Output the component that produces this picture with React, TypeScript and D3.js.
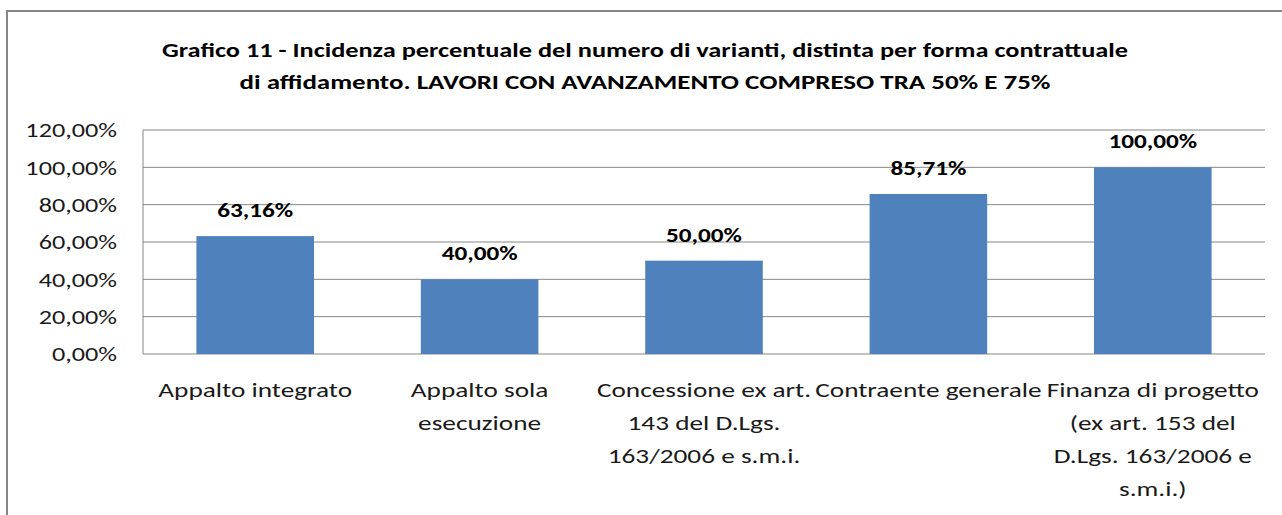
import * as d3 from "d3";
import { FC, ReactNode } from "react";

const CATEGORIES: string[] = [
  "Appalto integrato",
  "Appalto sola esecuzione",
  "Concessione ex art. 143 del D.Lgs. 163/2006 e s.m.i.",
  "Contraente generale",
  "Finanza di progetto (ex art. 153 del D.Lgs. 163/2006 e s.m.i.)",
];
// how Excel wrapped each category label
const CATEGORY_LINES: string[][] = [
  ["Appalto integrato"],
  ["Appalto sola", "esecuzione"],
  ["Concessione ex art.", "143 del D.Lgs.", "163/2006 e s.m.i."],
  ["Contraente generale"],
  ["Finanza di progetto", "(ex art. 153 del", "D.Lgs. 163/2006 e", "s.m.i.)"],
];
const VALUES: number[] = [63.16, 40.0, 50.0, 85.71, 100.0];
const Y_TICKS: number[] = [0, 20, 40, 60, 80, 100, 120];
const TITLE: string[] = [
  "Grafico 11 - Incidenza percentuale del numero di varianti, distinta per forma contrattuale",
  "di affidamento. LAVORI CON AVANZAMENTO COMPRESO TRA 50% E 75%",
];
const TITLE_WIDTHS: number[] = [966, 811];

const W = 1282;
const H = 515;
const FONT = "Calibri, Carlito, Lato, sans-serif";
const BAR = "#4f81bd";
const GRID = "#868686";
const INK = "#1a1a1a";

const pct = (v: number) => v.toFixed(2).replace(".", ",") + "%";

// the source picture is a bit wider than tall, so text gets stretched horizontally
const Stretch: FC<{ x: number; y: number; sx: number; children: ReactNode }> = ({
  x,
  y,
  sx,
  children,
}) => <g transform={`translate(${x},${y}) scale(${sx},1)`}>{children}</g>;

const App: FC = () => {
  const x = d3
    .scaleBand<string>()
    .domain(CATEGORIES)
    .range([143, 1265])
    .paddingInner(0.476)
    .paddingOuter(0.238);
  const y = d3.scaleLinear().domain([0, 120]).range([354, 130]);
  const cx = (c: string) => (x(c) ?? 0) + x.bandwidth() / 2;

  return (
    <svg
      width={W}
      height={H}
      style={{ position: "absolute", left: 0, top: 0, background: "#fff" }}
      fontFamily={FONT}
    >
      <rect x={7} y={11} width={W} height={H} fill="#fff" stroke={GRID} strokeWidth={2} />

      {TITLE.map((t, i) => (
        <text
          key={i}
          x={645}
          y={57 + i * 32}
          textAnchor="middle"
          fontWeight="bold"
          fontSize={21}
          fill="#000"
          textLength={TITLE_WIDTHS[i]}
          lengthAdjust="spacingAndGlyphs"
        >
          {t}
        </text>
      ))}

      {Y_TICKS.map((t) => (
        <g key={t}>
          <line x1={143} x2={1265} y1={y(t)} y2={y(t)} stroke={GRID} strokeWidth={1} />
          <Stretch x={117} y={y(t)} sx={1.31}>
            <text dy="0.36em" textAnchor="end" fontSize={20} fill={INK}>
              {pct(t)}
            </text>
          </Stretch>
        </g>
      ))}
      <line x1={143} x2={143} y1={y(120)} y2={y(0)} stroke={GRID} strokeWidth={1} />

      {CATEGORIES.map((c, i) => (
        <g key={c}>
          <rect
            x={x(c)}
            y={y(VALUES[i])}
            width={x.bandwidth()}
            height={y(0) - y(VALUES[i])}
            fill={BAR}
          />
          <Stretch x={cx(c)} y={y(VALUES[i]) - 19} sx={1.2}>
            <text textAnchor="middle" fontWeight="bold" fontSize={21} fill="#000">
              {pct(VALUES[i])}
            </text>
          </Stretch>
          {CATEGORY_LINES[i].map((l, j) => (
            <Stretch key={j} x={cx(c)} y={397 + j * 33} sx={1.3}>
              <text textAnchor="middle" fontSize={21} fill={INK}>
                {l}
              </text>
            </Stretch>
          ))}
        </g>
      ))}
    </svg>
  );
};

export default App;
